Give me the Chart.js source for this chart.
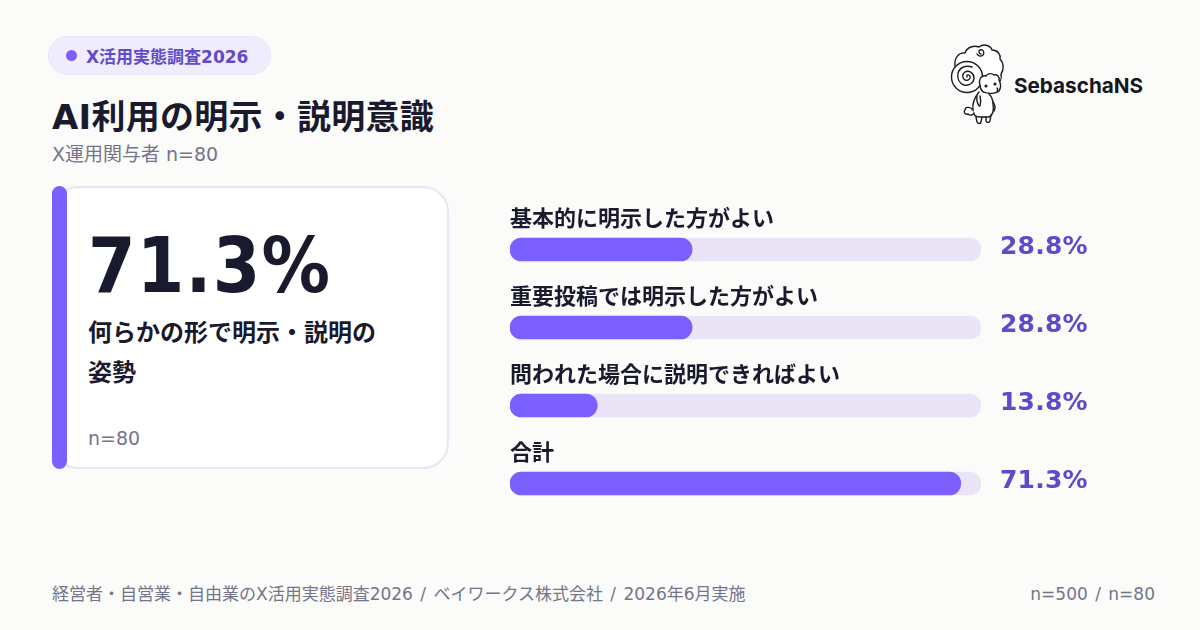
<!DOCTYPE html>
<html lang="ja">
<head>
<meta charset="utf-8">
<title>AI利用の明示・説明意識</title>
<script src="https://cdn.jsdelivr.net/npm/chart.js@4"></script>
<style>
	* { box-sizing: border-box; margin: 0; padding: 0; }
	html, body { width: 1200px; height: 630px; overflow: hidden; background: #fbfbf9; }
	body { position: relative; font-family: "DejaVu Sans", "Noto Sans CJK JP", sans-serif; color: #1a1a2e; }
	.abs { position: absolute; white-space: nowrap; }
	#chartBox { position: absolute; left: 0; top: 0; width: 1200px; height: 630px; }
	#pill { left: 48px; top: 36px; width: 223px; height: 39px; border-radius: 20px; background: #f0ecfd; border: 1px solid #e9e6f8; }
	#dot { left: 66px; top: 50px; width: 11px; height: 11px; border-radius: 50%; background: #7c5fff; }
	#pillText { left: 86px; top: 46px; font-size: 17px; line-height: 22px; font-weight: 700; color: #5f4bc9; }
	#title { left: 52px; top: 95px; font-size: 34px; line-height: 44px; font-weight: 700; letter-spacing: 0.25px; }
	#sub { left: 52px; top: 142px; font-size: 19px; line-height: 24px; color: #74748a; }
	#card { left: 52px; top: 186px; width: 397px; height: 283px; border-radius: 26px; background: #fff; border: 2px solid #e8e6f5; }
	#accent { left: 52px; top: 186px; width: 15px; height: 283px; border-radius: 8px; background: #7c5fff; }
	#big { left: 88px; top: 222px; font-size: 76px; line-height: 88px; font-weight: 700; font-family: "DejaVu Sans Condensed", "DejaVu Sans", sans-serif; font-stretch: condensed; letter-spacing: 1.2px; }
	#cardText { left: 88px; top: 313px; font-size: 24px; line-height: 40px; font-weight: 700; }
	#cardN { left: 88px; top: 426px; font-size: 19px; line-height: 24px; color: #74748a; }
	#foot { left: 52px; top: 583px; font-size: 17px; line-height: 22px; color: #74748a; word-spacing: 2px; }
	#footR { right: 45px; top: 583px; font-size: 17px; line-height: 22px; color: #74748a; word-spacing: 2px; }
	#logoText { left: 1014px; top: 73px; font-family: Inter, sans-serif; font-size: 20.7px; line-height: 26px; font-weight: 700; color: #16161e; }
	#logo { left: 943px; top: 40px; }
</style>
</head>
<body>
<div class="abs" id="card"></div>
<div class="abs" id="accent"></div>
<div class="abs" id="pill"></div>
<div class="abs" id="dot"></div>
<div class="abs" id="pillText">X活用実態調査2026</div>
<div class="abs" id="title">AI利用の明示・説明意識</div>
<div class="abs" id="sub">X運用関与者 n=80</div>
<div class="abs" id="big">71.3%</div>
<div class="abs" id="cardText">何らかの形で明示・説明の<br>姿勢</div>
<div class="abs" id="cardN">n=80</div>
<div class="abs" id="foot">経営者・自営業・自由業のX活用実態調査2026 / ベイワークス株式会社 / 2026年6月実施</div>
<div class="abs" id="footR">n=500 / n=80</div>

<svg class="abs" id="logo" width="70" height="90" viewBox="0 0 70 90" fill="none" stroke="#1c1c22" stroke-width="1.4" stroke-linecap="round" stroke-linejoin="round">
	<!-- wool -->
	<path d="M12 26C11 18 16 12 22 13C24 7 31 5 36 7C41 3 48 6 49 10C55 10 58 15 57 19C61 23 61 30 58 34C59 39 57 43 53 44L37 48L30 50L12 40z" fill="#fff" stroke="none"/>
	<path d="M12 26C11 18 16 12 22 13C24 7 31 5 36 7C41 3 48 6 49 10C55 10 58 15 57 19C61 23 61 30 58 34C59 39 57 43 53 44"/>
	<!-- big curl -->
	<circle cx="24" cy="37" r="15.5" fill="#fff"/>
	<path d="M24 37C23 35 26 34 27 36C28 39 25 41 22 40C19 38 19 34 22 32C26 30 31 33 31 38C31 43 26 46 21 45C16 43 14 38 15 33C17 27 23 25 29 27"/>
	<!-- small curl -->
	<path d="M38 14C36 14 35 11 37 10C40 9 42 12 40 15C38 17 35 16 34 14"/>
	<!-- head -->
	<path d="M37 45C35 39 39 35 43 36C45 33 49 33 51 35C54 34 57 37 56 40C58 44 58 48 56 51C53 54 44 54 40 52C38 50 37 48 37 45z" fill="#fff"/>
	<circle cx="43" cy="46" r="0.9" fill="#1c1c22"/>
	<circle cx="52" cy="44" r="0.9" fill="#1c1c22"/>
	<path d="M54 48C55 49 55 50 54 51"/>
	<!-- body -->
	<path d="M36 52C32 57 29 63 30 70C30 75 33 77 37 77L46 77C50 75 51 70 50 64C50 60 48 56 46 54" fill="#fff"/>
	<path d="M34 56C33 60 35 66 37 66C38 63 38 60 37 56"/>
	<path d="M50 62C52 65 53 68 51 71"/>
	<!-- tail -->
	<path d="M30 70C27 66 22 67 22 70C20 72 22 75 25 74C27 76 30 75 31 73" fill="#fff"/>
	<!-- legs -->
	<path d="M33 77L34 82C35 84 38 84 38 82L39 77"/>
	<path d="M43 77L43 81C44 83 46 83 47 81L48 75"/>
</svg>
<div class="abs" id="logoText">SebaschaNS</div>

<div id="chartBox"><canvas id="barChart"></canvas></div>

<script>
const categories = ['基本的に明示した方がよい', '重要投稿では明示した方がよい', '問われた場合に説明できればよい', '合計'];
const shares = [28.8, 28.8, 13.8, 71.3];
// the full track reads as about 74.5 on the value axis
const axisMax = 74.5;
const tracks = [74.5, 74.5, 74.5, 74.5];

const fontStack = '"DejaVu Sans", "Noto Sans CJK JP", sans-serif';

/*-----row labels-----*/
const rowLabels = {
	id: 'rowLabels',
	afterDatasetsDraw: function(chart) {
		const ctx = chart.ctx;
		const yScale = chart.scales.y;
		const left = chart.chartArea.left;
		const right = chart.chartArea.right;
		ctx.save();
		ctx.textBaseline = 'alphabetic';
		categories.forEach(function(name, i) {
			const y = yScale.getPixelForValue(i);
			ctx.textAlign = 'left';
			ctx.fillStyle = '#1a1a2e';
			ctx.font = '700 22px ' + fontStack;
			ctx.fillText(name, left, y - 24);
			ctx.fillStyle = '#5f4bc9';
			ctx.font = '700 25px ' + fontStack;
			ctx.letterSpacing = '0.2px';
			ctx.fillText(shares[i].toFixed(1) + '%', right + 19, y + 4);
			ctx.letterSpacing = '0px';
		});
		ctx.restore();
	}
};

new Chart(document.getElementById('barChart').getContext('2d'), {
	type: 'bar',
	data: {
		labels: categories,
		datasets: [{
			label: '割合',
			data: shares,
			backgroundColor: '#7c5fff',
			borderRadius: 12,
			borderSkipped: false,
			barThickness: 23,
			order: 1
		}, {
			label: 'track',
			data: tracks,
			backgroundColor: '#e9e5f6',
			borderRadius: 12,
			borderSkipped: false,
			barThickness: 23,
			order: 2
		}]
	},
	options: {
		indexAxis: 'y',
		responsive: true,
		maintainAspectRatio: false,
		animation: false,
		layout: {
			padding: { left: 510, right: 219, top: 210.5, bottom: 107.5 }
		},
		datasets: {
			bar: { grouped: false }
		},
		plugins: {
			legend: { display: false },
			tooltip: { enabled: false }
		},
		scales: {
			x: { display: false, min: 0, max: axisMax },
			y: { display: false }
		}
	},
	plugins: [rowLabels]
});
</script>
</body>
</html>
